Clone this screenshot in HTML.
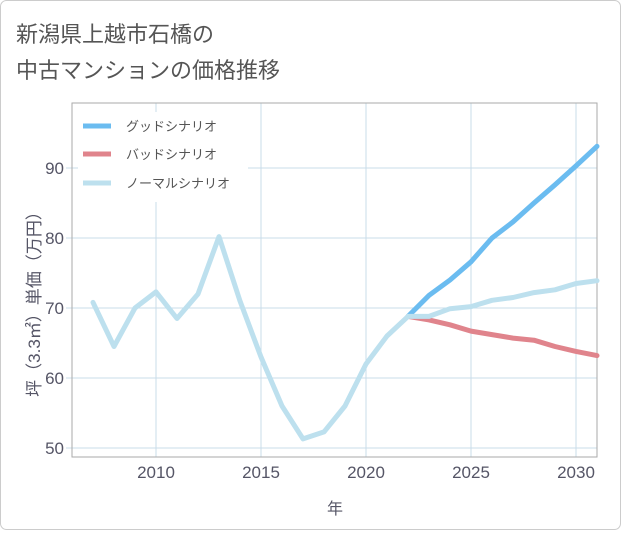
<!DOCTYPE html>
<html><head><meta charset="utf-8"><style>
body{margin:0;background:#fff;font-family:"Liberation Sans","Noto Sans CJK JP",sans-serif}
</style></head><body>
<svg width="621" height="530" xmlns="http://www.w3.org/2000/svg" font-family="Liberation Sans, Noto Sans CJK JP, sans-serif">
<rect x="0.5" y="0.5" width="620" height="529" rx="6" fill="#fff" stroke="#ccc"/>
<text x="16" y="42" font-size="22" fill="#555">新潟県上越市石橋の</text>
<text x="16" y="78" font-size="22" fill="#555">中古マンションの価格推移</text>
<g id="grid"></g>
<rect x="72" y="103" width="525" height="354" fill="none" stroke="#aaa"/>
<g id="xt"></g>
<g id="yt"></g>
<text x="335" y="514" font-size="16" fill="#556" text-anchor="middle">年</text>
<text transform="translate(40,300) rotate(-90)" font-size="17" fill="#556" text-anchor="middle">坪（3.3㎡）単価（万円）</text>
<g id="series"></g>
<g>
<rect x="78" y="112" width="170" height="90" fill="#fff"/>
<line x1="83" y1="126" x2="111" y2="126" stroke="#6bbcf0" stroke-width="5"/>
<text x="126" y="131" font-size="13" fill="#555">グッドシナリオ</text>
<line x1="83" y1="154" x2="111" y2="154" stroke="#e0848c" stroke-width="5"/>
<text x="126" y="159" font-size="13" fill="#555">バッドシナリオ</text>
<line x1="83" y1="183" x2="111" y2="183" stroke="#bde0ee" stroke-width="5"/>
<text x="126" y="188" font-size="13" fill="#555">ノーマルシナリオ</text>
</g>
</svg>
<script>
const normalYears=[2007,2008,2009,2010,2011,2012,2013,2014,2015,2016,2017,2018,2019,2020,2021,2022,2023,2024,2025,2026,2027,2028,2029,2030,2031];
const normalVals=[70.8,64.5,70,72.3,68.5,72,80.2,71,63,56,51.3,52.3,56,62,66,68.8,68.8,69.9,70.2,71.1,71.5,72.2,72.6,73.5,73.9];
const scenYears=[2022,2023,2024,2025,2026,2027,2028,2029,2030,2031];
const goodVals=[68.8,71.8,74,76.6,80,82.3,85,87.6,90.3,93.1];
const badVals=[68.8,68.3,67.6,66.7,66.2,65.7,65.4,64.5,63.8,63.2];
const xTicks=[2010,2015,2020,2025,2030];
const yTicks=[50,60,70,80,90];
const NS="http://www.w3.org/2000/svg";
const X=y=>156+(y-2010)*21, Y=v=>448-(v-50)*7;
function mk(t,a,p){const e=document.createElementNS(NS,t);for(const k in a)e.setAttribute(k,a[k]);p.appendChild(e);return e;}
const grid=document.getElementById('grid'),xt=document.getElementById('xt'),yt=document.getElementById('yt'),ser=document.getElementById('series');
xTicks.forEach(t=>{const l=mk('line',{x1:X(t),x2:X(t),y1:103,y2:457,stroke:'#c8dcea'},grid);

const tx=mk('text',{x:X(t),y:478,'font-size':17,fill:'#556','text-anchor':'middle'},xt);tx.textContent=t;
});
yTicks.forEach(t=>{const l=mk('line',{x1:66,x2:597,y1:Y(t),y2:Y(t),stroke:'#c8dcea'},grid);

const tx=mk('text',{x:64,y:Y(t)+6,'font-size':17,fill:'#556','text-anchor':'end'},yt);tx.textContent=t;
});
function line(ys,vs,c,n){const p=mk('polyline',{points:ys.map((y,i)=>X(y)+','+Y(vs[i])).join(' '),fill:'none',stroke:c,'stroke-width':5,'stroke-linejoin':'round','stroke-linecap':'round'},ser);
}
line(scenYears,badVals,'#e0848c','bad-line');
line(scenYears,goodVals,'#6bbcf0','good-line');
line(normalYears,normalVals,'#bde0ee','normal-line');
</script>
</body></html>
